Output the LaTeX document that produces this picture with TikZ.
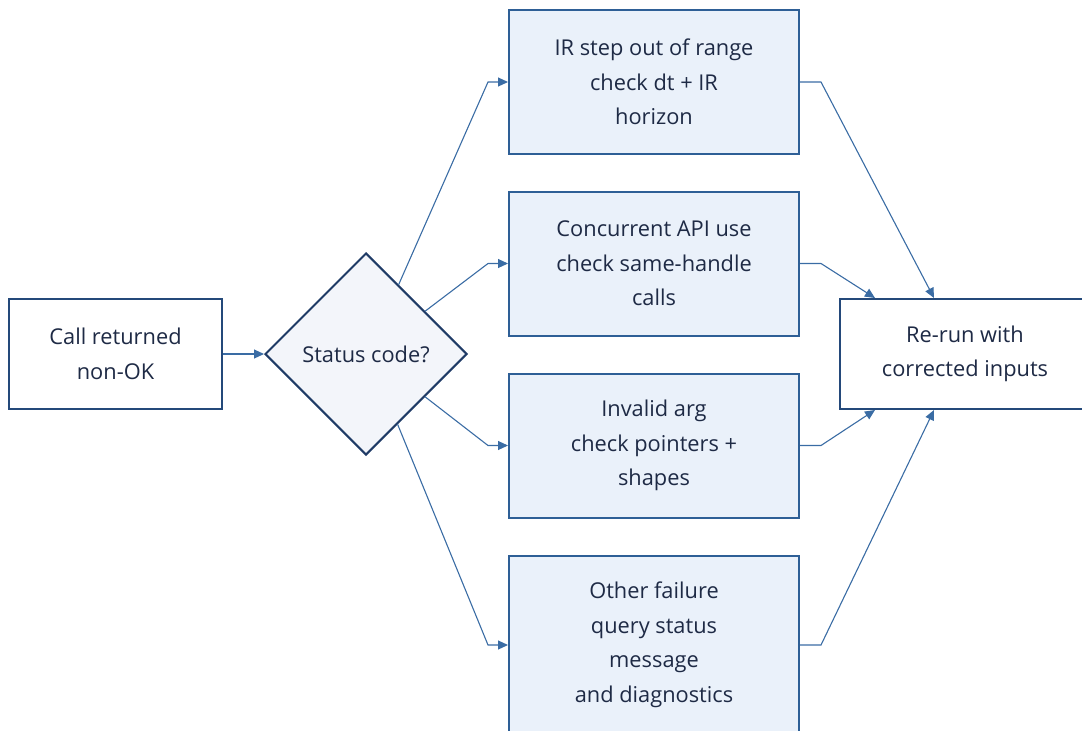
\documentclass[tikz,border=0pt]{standalone}
\usepackage{fontspec}
\setmainfont{Open Sans}
\usetikzlibrary{shapes.geometric,arrows.meta,calc}
\definecolor{txt}{HTML}{1E2A45}
\definecolor{bfill}{HTML}{EAF1FA}
\definecolor{bdraw}{HTML}{2E5F96}
\definecolor{odraw}{HTML}{24497A}
\definecolor{ddraw}{HTML}{1F3B66}
\definecolor{dfill}{HTML}{F3F5FA}
\definecolor{conncol}{HTML}{3A6CA4}
\tikzset{
  every node/.style={font=\fontsize{21.8}{34.5}\selectfont, text=txt, align=center},
  stepbox/.style={draw=bdraw, fill=bfill, line width=2pt, minimum width=290pt, minimum height=144pt, inner sep=0pt},
  endbox/.style={draw=odraw, fill=white, line width=2pt, minimum height=110pt, inner sep=0pt},
  decbox/.style={diamond, draw=ddraw, fill=dfill, line width=2pt, minimum size=202pt, inner sep=0pt, aspect=1},
  conn/.style={draw=conncol, line width=1.1pt, -{Triangle[length=10pt,width=9pt]}}
}
\begin{document}
\begin{tikzpicture}[x=1pt,y=-1pt]
\path[use as bounding box] (0,0) rectangle (1082,731);
\clip (0,0) rectangle (1082,731);
\node[endbox, minimum width=213pt] (start) at (115.5,354) {Call returned\\non-OK};
\node[decbox] (d) at (366,354) {Status code?};
\node[stepbox] (b1) at (654,82) {IR step out of range\\check dt + IR\\horizon};
\node[stepbox] (b2) at (654,263.5) {Concurrent API use\\check same-handle\\calls};
\node[stepbox] (b3) at (654,445.5) {Invalid arg\\check pointers +\\shapes};
\node[stepbox, minimum height=178pt] (b4) at (654,645) {Other failure\\query status\\message\\and diagnostics};
\node[endbox, minimum width=250pt] (r) at (965,354) {Re-run with\\corrected inputs};

\draw[conn] (start.east) -- (d.west);
\draw[conn] ($(d.north)!0.32!(d.east)$) -- ([xshift=-20pt]b1.west) -- (b1.west);
\draw[conn] ($(d.north)!0.58!(d.east)$) -- ([xshift=-20pt]b2.west) -- (b2.west);
\draw[conn] ($(d.south)!0.58!(d.east)$) -- ([xshift=-20pt]b3.west) -- (b3.west);
\draw[conn] ($(d.south)!0.31!(d.east)$) -- ([xshift=-20pt]b4.west) -- (b4.west);

\draw[conn] (b1.east) -- ([xshift=21pt]b1.east) -- ([xshift=95pt]r.north west);
\draw[conn] (b2.east) -- ([xshift=21pt]b2.east) -- ([xshift=36pt]r.north west);
\draw[conn] (b3.east) -- ([xshift=21pt]b3.east) -- ([xshift=36pt]r.south west);
\draw[conn] (b4.east) -- ([xshift=21pt]b4.east) -- ([xshift=95pt]r.south west);
\end{tikzpicture}
\end{document}
